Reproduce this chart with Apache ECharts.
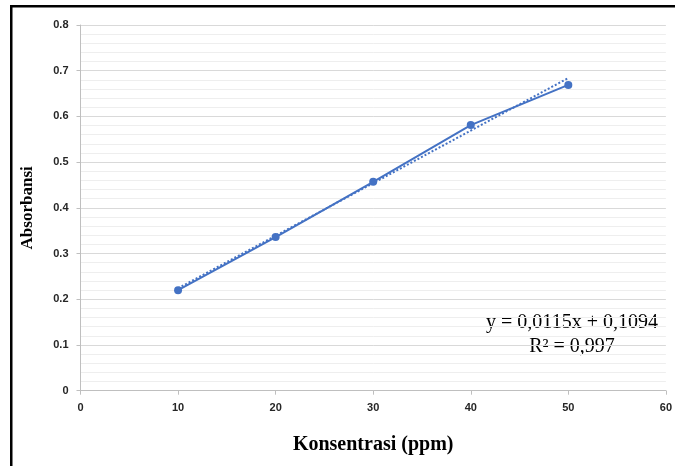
<!DOCTYPE html>
<html>
<head>
<meta charset="utf-8">
<style>html,body{margin:0;padding:0;background:#fff;overflow:hidden}#c{width:675px;height:466px}</style>
<script src="https://cdn.jsdelivr.net/npm/echarts@6/dist/echarts.min.js"></script>
</head>
<body>
<div id="c"></div>
<script>
var concentrations = [10, 20, 30, 40, 50];
var absorbance = [0.220, 0.336, 0.457, 0.581, 0.669];
var trendX = [10, 50];
var trendY = [0.224, 0.684];
var equationText = 'y = 0,0115x + 0,1094';
var r2Text = 'R\u00b2 = 0,997';
var xTitle = 'Konsentrasi (ppm)';
var yTitle = 'Absorbansi';

var chart = echarts.init(document.getElementById('c'), null, {renderer: 'canvas', width: 675, height: 466});
var blue = '#4472C4';
var tickFont = {color: '#262626', fontFamily: 'Liberation Sans', fontWeight: 'bold', fontSize: 11};
chart.setOption({
  animation: false,
  grid: {left: 80.5, width: 590.5, top: 25, height: 365.7, containLabel: false},
  xAxis: {
    type: 'value', min: 0, max: 60, interval: 10,
    axisLine: {show: true, lineStyle: {color: '#bfbfbf', width: 1}},
    axisTick: {show: true, length: 4, lineStyle: {color: '#bfbfbf'}},
    axisLabel: Object.assign({margin: 12}, tickFont),
    splitLine: {show: false},
    name: xTitle, nameLocation: 'middle', nameGap: 44,
    nameTextStyle: {fontFamily: 'Liberation Serif', fontWeight: 'bold', fontSize: 20, color: '#000'}
  },
  yAxis: {
    type: 'value', min: 0, max: 0.8, interval: 0.1,
    axisLine: {show: true, lineStyle: {color: '#bfbfbf', width: 1}},
    axisTick: {show: true, length: 4, lineStyle: {color: '#bfbfbf'}},
    axisLabel: Object.assign({margin: 12, formatter: function(v){return v === 0 ? '0' : v.toFixed(1);}}, tickFont),
    splitLine: {show: true, lineStyle: {color: '#d9d9d9', width: 1}},
    minorTick: {show: false, splitNumber: 5},
    minorSplitLine: {show: true, lineStyle: {color: '#eeeeee', width: 1}},
    name: yTitle, nameLocation: 'middle', nameGap: 44, nameRotate: 90,
    nameTextStyle: {fontFamily: 'Liberation Serif', fontWeight: 'bold', fontSize: 17, color: '#000'}
  },
  series: [
    {
      type: 'line',
      data: trendX.map(function(x, i){return [x, trendY[i]];}),
      symbol: 'none',
      lineStyle: {color: blue, width: 2, type: [2, 2]},
      z: 2
    },
    {
      type: 'line',
      data: concentrations.map(function(x, i){return [x, absorbance[i]];}),
      symbol: 'circle', symbolSize: 8,
      itemStyle: {color: blue},
      lineStyle: {color: blue, width: 2},
      z: 3
    }
  ],
  graphic: [
    {type: 'rect', shape: {x: 10, y: 5, width: 665, height: 2.5}, style: {fill: '#000'}},
    {type: 'rect', shape: {x: 10, y: 5, width: 2.5, height: 461}, style: {fill: '#000'}},
    {type: 'text', x: 572, y: 323, style: {text: equationText, font: '20px "Liberation Serif"', fill: '#000', align: 'center', verticalAlign: 'middle'}},
    {type: 'text', x: 572, y: 347, style: {text: r2Text, font: '20px "Liberation Serif"', fill: '#000', align: 'center', verticalAlign: 'middle'}}
  ]
});
</script>
</body>
</html>
